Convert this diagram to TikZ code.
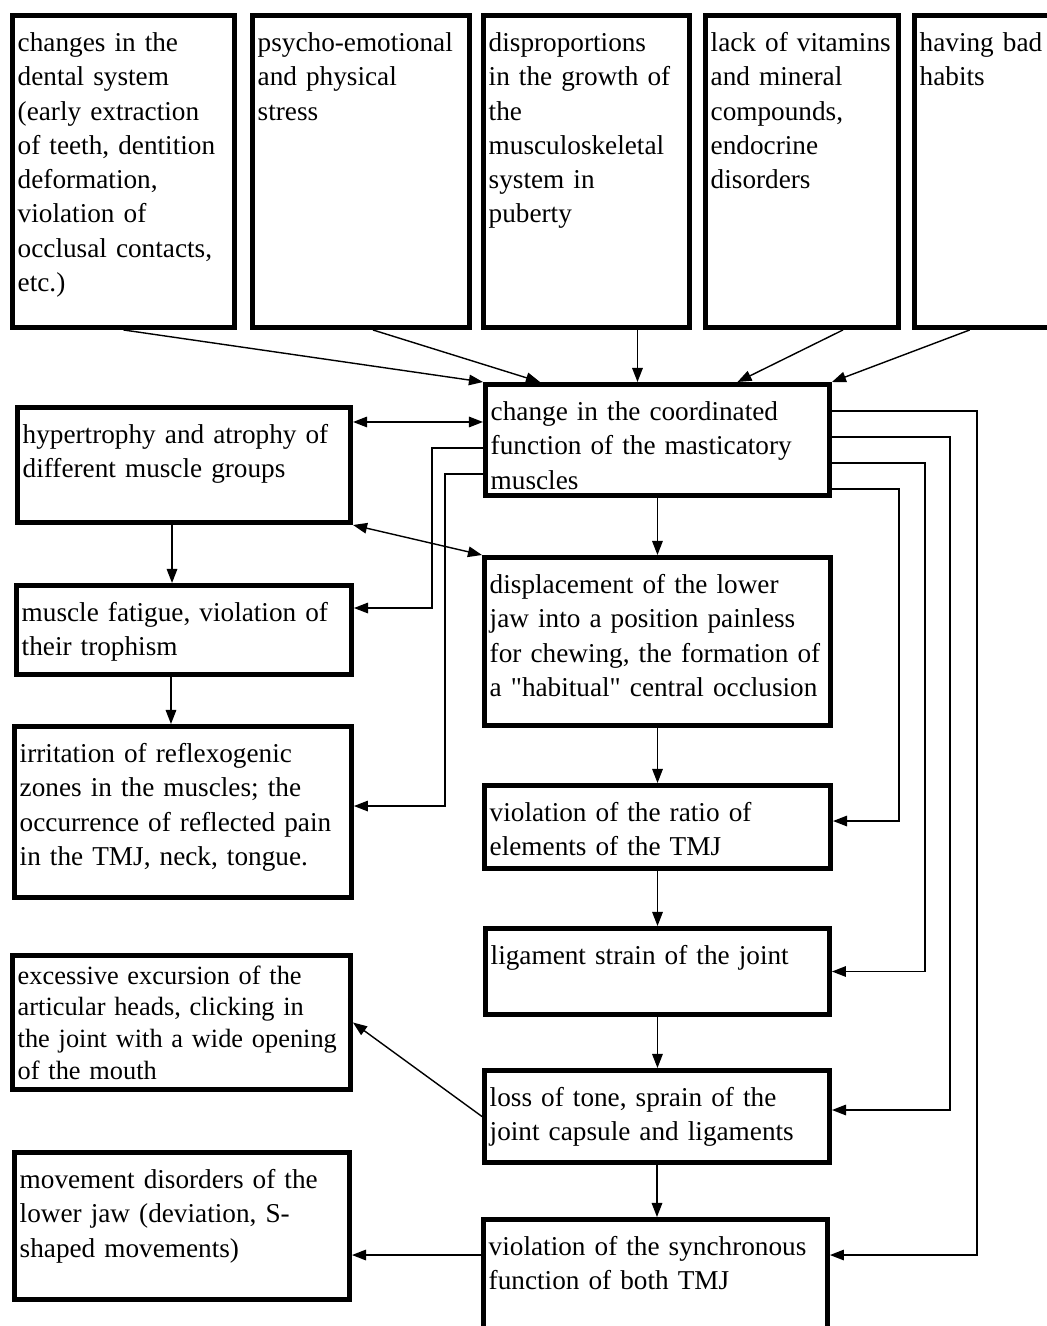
\documentclass[tikz,border=0pt]{standalone}
\usepackage{fontspec}
\setmainfont{Liberation Serif}[Ligatures=TeXOff]
\usetikzlibrary{arrows.meta}
\newcommand{\boxfont}{\fontsize{15.5pt}{19.5pt}\selectfont}
\hyphenpenalty=10000
\exhyphenpenalty=10000
\tikzset{
    box/.style={draw, line width=2.8pt, anchor=north west, align=left,
        inner xsep=3pt, inner ysep=4pt, text height=16.5pt, font=\boxfont},
    arr/.style={-{Triangle[length=8pt,width=6pt]}, line width=0.8pt},
    darr/.style={{Triangle[length=8pt,width=6pt]}-{Triangle[length=8pt,width=6pt]}, line width=0.8pt}
}
\begin{document}
\begin{tikzpicture}[x=0.02cm, y=-0.02cm]
        \path[fill=white] (0,0) rectangle (1047,1326);
        \useasboundingbox (0,0) rectangle (1047,1326);

        \node[box, text width=120.4pt, text depth=153.1pt] (dental) at (10,13)
            {changes in the\\dental system\\(early extraction\\of teeth, dentition\\deformation,\\violation of\\occlusal contacts,\\etc.)};
        \node[box, text width=117.5pt, text depth=153.1pt] (stress) at (250,13)
            {psycho-emotional\\and physical\\stress};
        \node[box, text width=111.3pt, text depth=153.1pt] (growth) at (481,13)
            {disproportions\\in the growth of\\the\\musculoskeletal\\system in\\puberty};
        \node[box, text width=103.9pt, text depth=153.1pt] (vitamins) at (703,13)
            {lack of vitamins\\and mineral\\compounds,\\endocrine\\disorders};
        \node[box, text width=74pt, text depth=153.1pt] (habits) at (912,13)
            {having bad\\habits};

        \node[box, text width=189.8pt, text depth=38.7pt] (coord) at (483,382)
            {change in the coordinated\\function of the masticatory\\muscles};
        \node[box, text width=183.6pt, text depth=41pt] (hyper) at (15,405)
            {hypertrophy and atrophy of\\different muscle groups};
        \node[box, text width=184.7pt, text depth=26.2pt] (fatigue) at (14,583)
            {muscle fatigue, violation of\\their trophism};
        \node[box, text width=191pt, text depth=71.2pt] (displ) at (482,555)
            {displacement of the lower\\jaw into a position painless\\for chewing, the formation of\\a "habitual" central occlusion};
        \node[box, text width=185.8pt, text depth=72.9pt] (irrit) at (12,724)
            {irritation of reflexogenic\\zones in the muscles; the\\occurrence of reflected pain\\in the TMJ, neck, tongue.};
        \node[box, text width=191pt, text depth=22.8pt] (ratio) at (482,783)
            {violation of the ratio of\\elements of the TMJ};
        \node[box, text width=189.8pt, text depth=24.5pt] (ligam) at (483,926)
            {ligament strain of the joint};
        \node[box, text width=186.4pt, text height=12.4pt, text depth=55.9pt,
            font=\fontsize{15pt}{18pt}\selectfont] (excurs) at (10,953)
            {excessive excursion of the\\articular heads, clicking in\\the joint with a wide opening\\of the mouth};
        \node[box, text width=190.4pt, text depth=27.9pt] (tone) at (482,1068)
            {loss of tone, sprain of the\\joint capsule and ligaments};
        \node[box, text width=184.7pt, text depth=59.2pt] (moves) at (12,1150)
            {movement disorders of the\\lower jaw (deviation, S-\\shaped movements)};
        \node[box, text width=189.8pt, text depth=46.7pt] (sync) at (481,1217)
            {violation of the synchronous\\function of both TMJ};

        \draw[arr] (dental.south) -- (coord.north west);
        \draw[arr] ([xshift=0.24cm]stress.south) -- ([xshift=1.14cm]coord.north west);
        \draw[arr] ([xshift=1.02cm]growth.south) -- ([xshift=1.02cm]growth.south |- coord.north);
        \draw[arr] ([xshift=0.82cm]vitamins.south) -- ([xshift=1.6cm]coord.north);
        \draw[arr] ([xshift=-0.3cm]habits.south) -- (coord.north east);

        \foreach \u/\v in {coord/displ, displ/ratio, ratio/ligam, ligam/tone, tone/sync}
            \draw[arr] (\u.south) -- (\u.south |- \v.north);

        \draw[darr] ([yshift=0.36cm]coord.west) -- ([yshift=0.36cm]coord.west -| hyper.east);
        \draw[darr] (hyper.south east) -- (displ.north west);
        \draw[arr] ([yshift=-0.16cm]coord.west) -- ++(-51,0) |- ([yshift=0.44cm]fatigue.east);
        \draw[arr] ([yshift=-0.68cm]coord.west) -- ++(-38,0) |- ([yshift=0.12cm]irrit.east);
        \draw[arr] ([xshift=-0.24cm]hyper.south) -- ([xshift=-0.24cm]hyper.south |- fatigue.north);
        \draw[arr] ([xshift=-0.26cm]fatigue.south) -- ([xshift=-0.26cm]fatigue.south |- irrit.north);
        \draw[arr] (tone.west) -- (excurs.east);
        \draw[arr] ([yshift=0.54cm]sync.west) -- ([yshift=0.54cm]sync.west -| moves.east);

        \draw[arr] ([yshift=0.58cm]coord.east) -- ++(145,0) |- ([yshift=0.54cm]sync.east);
        \draw[arr] ([yshift=0.06cm]coord.east) -- ++(118,0) |- ([yshift=0.13cm]tone.east);
        \draw[arr] ([yshift=-0.46cm]coord.east) -- ++(93,0) |- (ligam.east);
        \draw[arr] ([yshift=-0.98cm]coord.east) -- ++(67,0) |- ([yshift=0.12cm]ratio.east);
\end{tikzpicture}
\end{document}
